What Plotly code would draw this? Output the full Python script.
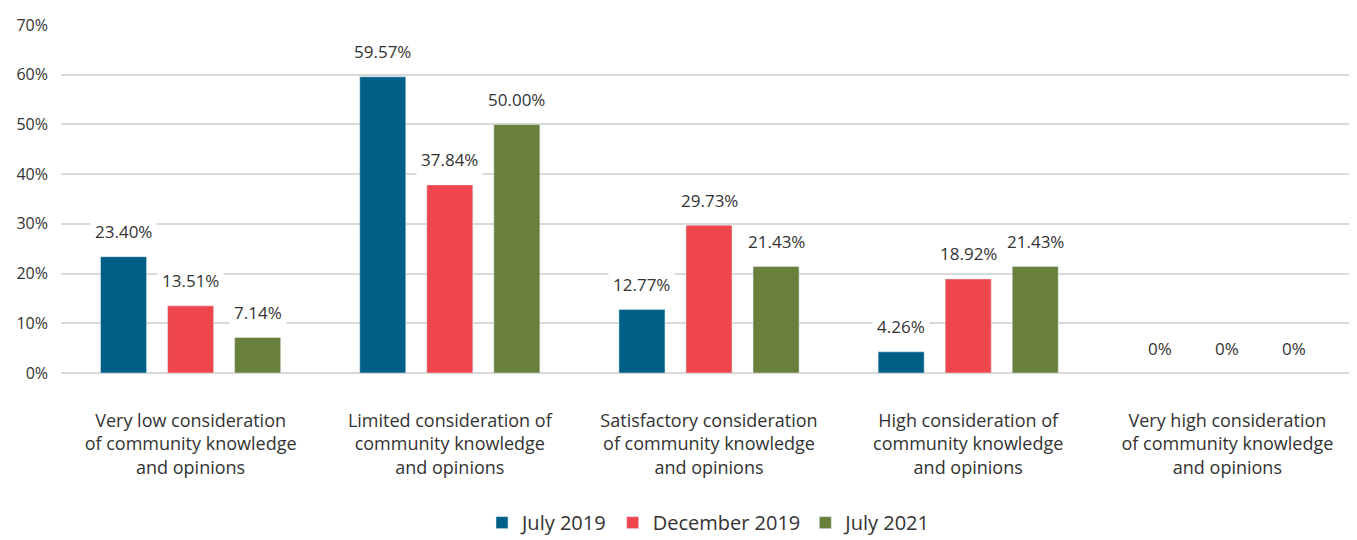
import plotly.graph_objects as go

categories = [
    "Very low consideration<br>of community knowledge<br>and opinions",
    "Limited consideration of<br>community knowledge<br>and opinions",
    "Satisfactory consideration<br>of community knowledge<br>and opinions",
    "High consideration of<br>community knowledge<br>and opinions",
    "Very high consideration<br>of community knowledge<br>and opinions",
]
series_names = ["July 2019", "December 2019", "July 2021"]
july_2019 = [0.2340, 0.5957, 0.1277, 0.0426, 0.0]
december_2019 = [0.1351, 0.3784, 0.2973, 0.1892, 0.0]
july_2021 = [0.0714, 0.5000, 0.2143, 0.2143, 0.0]
colors = ["#005F87", "#EF464E", "#68803C"]

FONT = "Open Sans, Noto Sans, sans-serif"
TXT = "#333333"

fig = go.Figure()
all_series = [july_2019, december_2019, july_2021]
for name, vals, col in zip(series_names, all_series, colors):
    fig.add_trace(go.Bar(
        x=categories, y=vals, name=name, marker_color=col,
        offsetgroup=name,
    ))

n = len(series_names)
slot = 1 - 0.224
for i, vals in enumerate(all_series):
    for j, v in enumerate(vals):
        off = (i - (n - 1) / 2) * slot / n
        fig.add_annotation(
            x=j + off, y=v, xref="x", yref="y",
            text=("0%" if v == 0 else f"{v*100:.2f}%"),
            showarrow=False, yshift=25,
            font=dict(family=FONT, size=17, color=TXT),
            bgcolor="white", borderpad=4,
        )

fig.update_layout(
    width=1349, height=532,
    margin=dict(l=53, r=0, t=17, b=167, autoexpand=False),
    plot_bgcolor="white", paper_bgcolor="white",
    barmode="group", bargap=0.224, bargroupgap=0.313,
    font=dict(family=FONT, size=16, color=TXT),
    legend=dict(orientation="h", x=0.5, xanchor="center", y=-0.43, yanchor="middle",
                font=dict(family=FONT, size=20, color=TXT), traceorder="normal",
                itemwidth=30),
    showlegend=True,
)
fig.update_xaxes(
    type="category", showgrid=False, showline=False, automargin=False,
    tickfont=dict(family=FONT, size=18, color=TXT),
    ticklabelstandoff=35,
)
fig.update_yaxes(
    range=[0, 0.7], dtick=0.1, tickformat=".0%", automargin=False,
    showgrid=True, gridcolor="#d9d9d9", gridwidth=1.5,
    zeroline=True, zerolinecolor="#d9d9d9", zerolinewidth=1.5,
    tickfont=dict(family=FONT, size=16, color=TXT),
    ticklabelstandoff=12,
)
fig.write_html("out.html")
